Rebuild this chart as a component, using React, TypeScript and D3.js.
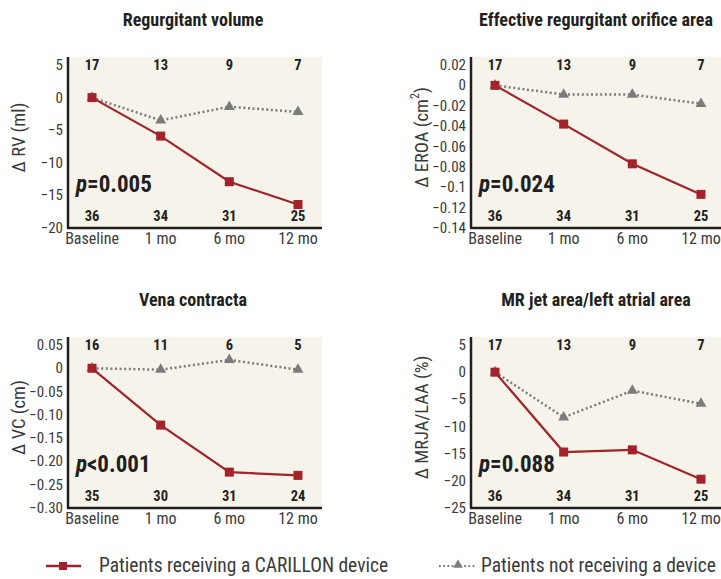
import React from 'react';
import * as d3 from 'd3';

// categories along the x axis
const categories = ['Baseline', '1 mo', '6 mo', '12 mo'];

// Regurgitant volume
const rvDevice = [0, -5.9, -12.9, -16.4];
const rvControl = [0, -3.5, -1.4, -2.2];
const rvTicks = [5, 0, -5, -10, -15, -20];
const rvTickLabels = ['5', '0', '\u22125', '\u221210', '\u221215', '\u221220'];
const rvNDevice = [36, 34, 31, 25];
const rvNControl = [17, 13, 9, 7];

// Effective regurgitant orifice area
const eroaDevice = [0, -0.038, -0.077, -0.107];
const eroaControl = [0, -0.009, -0.009, -0.018];
const eroaTicks = [0.02, 0, -0.02, -0.04, -0.06, -0.08, -0.1, -0.12, -0.14];
const eroaTickLabels = ['0.02', '0', '\u22120.02', '\u22120.04', '\u22120.06', '\u22120.08', '\u22120.1', '\u22120.12', '\u22120.14'];
const eroaNDevice = [36, 34, 31, 25];
const eroaNControl = [17, 13, 9, 7];

// Vena contracta
const vcDevice = [0, -0.122, -0.223, -0.23];
const vcControl = [0, -0.003, 0.018, -0.003];
const vcTicks = [0.05, 0, -0.05, -0.1, -0.15, -0.2, -0.25, -0.3];
const vcTickLabels = ['0.05', '0', '\u22120.05', '\u22120.10', '\u22120.15', '\u22120.20', '\u22120.25', '\u22120.30'];
const vcNDevice = [35, 30, 31, 24];
const vcNControl = [16, 11, 6, 5];

// MR jet area / left atrial area
const mrDevice = [0, -14.7, -14.3, -19.7];
const mrControl = [0, -8.3, -3.4, -5.8];
const mrTicks = [5, 0, -5, -10, -15, -20, -25];
const mrTickLabels = ['5', '0', '\u22125', '\u221210', '\u221215', '\u221220', '\u221225'];
const mrNDevice = [36, 34, 31, 25];
const mrNControl = [17, 13, 9, 7];

const FONT = '"Roboto Condensed", "Liberation Sans Narrow", "DejaVu Sans", sans-serif';
const RED = '#a3232a';
const GREY = '#7b7b7b';
const BG = '#f5f3ea';
const AXIS = '#231f20';

const PW = 254;
const PH = 171;

type PanelProps = {
  left: number;
  top: number;
  title: string;
  yLabel: React.ReactNode;
  ticks: number[];
  tickLabels: string[];
  device: number[];
  control: number[];
  nDevice: number[];
  nControl: number[];
  pOp: string;
  pVal: string;
};

const Panel = (p: PanelProps) => {
  const x = d3
    .scalePoint<string>()
    .domain(categories)
    .range([p.left, p.left + PW])
    .padding(0.35);
  const y = d3
    .scaleLinear()
    .domain([d3.min(p.ticks) as number, d3.max(p.ticks) as number])
    .range([p.top + PH, p.top + 8]);

  const line = d3
    .line<number>()
    .x((_, i) => x(categories[i]) as number)
    .y(d => y(d));

  const tri = d3.symbol().type(d3.symbolTriangle).size(52)() as string;

  return (
    <g>
      <text
        x={p.left + PW / 2 - 2}
        y={p.top - 31}
        textAnchor="middle"
        fontSize={18}
        fontWeight="bold"
        fill="#231f20"
      >
        {p.title}
      </text>
      <rect x={p.left} y={p.top} width={PW} height={PH} fill={BG} />
      <line x1={p.left} x2={p.left} y1={p.top} y2={p.top + PH} stroke={AXIS} strokeWidth={2.5} />
      <line x1={p.left - 1} x2={p.left + PW} y1={p.top + PH} y2={p.top + PH} stroke={AXIS} strokeWidth={2.5} />

      {p.ticks.map((t, i) => (
        <text
          key={'t' + i}
          x={p.left - 5}
          y={y(t)}
          textAnchor="end"
          dominantBaseline="central"
          fontSize={15}
          fill="#3a3a3a"
        >
          {p.tickLabels[i]}
        </text>
      ))}

      {categories.map(c => (
        <text
          key={c}
          x={x(c) as number}
          y={p.top + PH + 16}
          textAnchor="middle"
          fontSize={16}
          fill="#3a3a3a"
        >
          {c}
        </text>
      ))}

      <text
        transform={`translate(${p.left - 49},${p.top + PH / 2 - 5}) rotate(-90)`}
        textAnchor="middle"
        dominantBaseline="central"
        fontSize={18.5}
        fill="#3a3a3a"
      >
        {p.yLabel}
      </text>

      {categories.map((c, i) => (
        <text
          key={'nc' + c}
          x={x(c) as number}
          y={p.top + 13}
          textAnchor="middle"
          fontSize={14.5}
          fontWeight="bold"
          fill="#231f20"
        >
          {p.nControl[i]}
        </text>
      ))}
      {categories.map((c, i) => (
        <text
          key={'nd' + c}
          x={x(c) as number}
          y={p.top + 164}
          textAnchor="middle"
          fontSize={14.5}
          fontWeight="bold"
          fill="#231f20"
        >
          {p.nDevice[i]}
        </text>
      ))}

      <path
        d={line(p.control) as string}
        fill="none"
        stroke={GREY}
        strokeWidth={2.5}
        strokeDasharray="2,2.6"
      />
      {p.control.map((v, i) => (
        <path
          key={'tri' + i}
          d={tri}
          transform={`translate(${x(categories[i])},${y(v)})`}
          fill={GREY}
        />
      ))}
      <path d={line(p.device) as string} fill="none" stroke={RED} strokeWidth={2.2} />
      {p.device.map((v, i) => (
        <rect
          key={'sq' + i}
          x={(x(categories[i]) as number) - 4.5}
          y={y(v) - 4.5}
          width={9}
          height={9}
          fill={RED}
        />
      ))}

      <text x={p.left + 8} y={p.top + 135} fontSize={23} fontWeight="bold" fill="#231f20">
        <tspan fontStyle="italic">p</tspan>
        <tspan>{p.pOp + p.pVal}</tspan>
      </text>
    </g>
  );
};

const App = () => {
  return (
    <svg
      width={721}
      height={579}
      style={{ position: 'absolute', left: 0, top: 0, background: '#fff', fontFamily: FONT, fontStretch: 'condensed' }}
    >
      <Panel
        left={68}
        top={57}
        title="Regurgitant volume"
        yLabel="Δ RV (ml)"
        ticks={rvTicks}
        tickLabels={rvTickLabels}
        device={rvDevice}
        control={rvControl}
        nDevice={rvNDevice}
        nControl={rvNControl}
        pOp="="
        pVal="0.005"
      />
      <Panel
        left={471}
        top={57}
        title="Effective regurgitant orifice area"
        yLabel={
          <>
            Δ EROA (cm<tspan fontSize={12} dy={-7}>2</tspan>
            <tspan dy={7}>)</tspan>
          </>
        }
        ticks={eroaTicks}
        tickLabels={eroaTickLabels}
        device={eroaDevice}
        control={eroaControl}
        nDevice={eroaNDevice}
        nControl={eroaNControl}
        pOp="="
        pVal="0.024"
      />
      <Panel
        left={68}
        top={337}
        title="Vena contracta"
        yLabel="Δ VC (cm)"
        ticks={vcTicks}
        tickLabels={vcTickLabels}
        device={vcDevice}
        control={vcControl}
        nDevice={vcNDevice}
        nControl={vcNControl}
        pOp="<"
        pVal="0.001"
      />
      <Panel
        left={471}
        top={337}
        title="MR jet area/left atrial area"
        yLabel="Δ MRJA/LAA (%)"
        ticks={mrTicks}
        tickLabels={mrTickLabels}
        device={mrDevice}
        control={mrControl}
        nDevice={mrNDevice}
        nControl={mrNControl}
        pOp="="
        pVal="0.088"
      />

      {/* legend */}
      <g>
        <line x1={46} x2={81} y1={566} y2={566} stroke={RED} strokeWidth={2.5} />
        <rect x={59} y={562} width={8} height={8} fill={RED} />
        <text x={99} y={572} fontSize={19.5} fill="#3a3a3a">
          Patients receiving a CARILLON device
        </text>
        <line x1={439} x2={475} y1={566} y2={566} stroke={GREY} strokeWidth={2} strokeDasharray="1.8,2.4" />
        <path
          d={d3.symbol().type(d3.symbolTriangle).size(40)() as string}
          transform="translate(458,565)"
          fill={GREY}
        />
        <text x={481} y={572} fontSize={19.5} fill="#3a3a3a">
          Patients not receiving a device
        </text>
      </g>
    </svg>
  );
};

export default App;
